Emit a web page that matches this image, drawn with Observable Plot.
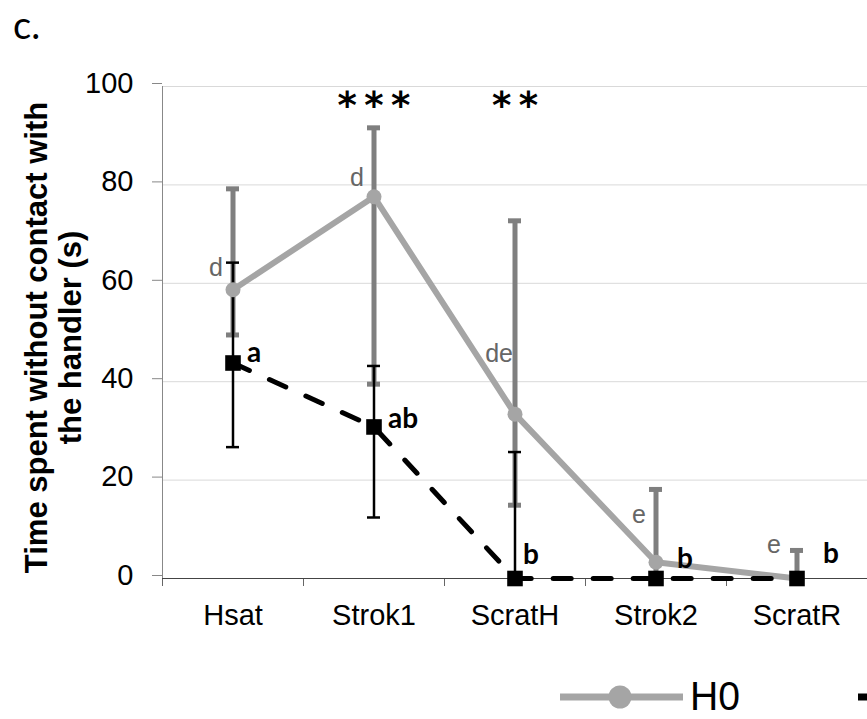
<!DOCTYPE html>
<html><head><meta charset="utf-8">
<script src="https://cdn.jsdelivr.net/npm/d3@7"></script>
<script src="https://cdn.jsdelivr.net/npm/@observablehq/plot@0.6"></script>
<style>
html,body{margin:0;padding:0;background:#fff;width:867px;height:719px;overflow:hidden;position:relative;}
#chart{position:absolute;left:0;top:0;}
#title{position:absolute;left:13px;top:2px;font-size:38px;font-family:Lato,"Open Sans",sans-serif;line-height:44px;color:#000;}
#legend{position:absolute;left:0;top:650px;}
</style></head><body>
<div id="chart"></div>
<div id="title">c.</div>
<svg id="legend" width="867" height="69" xmlns="http://www.w3.org/2000/svg">
  <line x1="560" y1="47" x2="683" y2="47" stroke="#a5a5a5" stroke-width="7"/>
  <circle cx="620" cy="47" r="11.5" fill="#a5a5a5"/>
  <text x="690" y="60" font-family="Liberation Sans, Arial, sans-serif" font-size="40" textLength="50" lengthAdjust="spacingAndGlyphs" fill="#000">H0</text>
  <line x1="858" y1="47" x2="940" y2="47" stroke="#000" stroke-width="7" stroke-dasharray="22,16"/>
</svg>
<script>
// ---- data ----
const categories = ["Hsat", "Strok1", "ScratH", "Strok2", "ScratR"];
const h0Mean  = [58.7, 77.6, 33.4, 3.3, 0];
const h0Upper = [79.2, 91.6, 72.7, 18.1, 5.7];
const h0Lower = [49.5, 39.5, 14.9, 0, 0];
const blkMean  = [43.8, 30.8, 0, 0, 0];
const blkUpper = [64.2, 43.2, 25.7, 0, 0];
const blkLower = [26.7, 12.4, 0, 0, 0];
const h0Letters = ["d", "d", "de", "e", "e"];
const h0LetterY = [61.5, 79.8, 44.0, 11.2, 5.1];
const blkLetters = ["a", "ab", "b", "b", "b"];
const blkLetterY = [44.0, 30.5, 2.9, 2.2, 3.1];
const stars = ["", "***", "**", "", ""];
const yTicks = [0, 20, 40, 60, 80, 100];
const yLabel = "Time spent without contact with\nthe handler (s)";

// ---- build table ----
const rows = categories.map((c, i) => ({
  x: i + 0.5, cat: c,
  h0: h0Mean[i], h0Lo: h0Lower[i], h0Hi: h0Upper[i],
  b: blkMean[i], bLo: blkLower[i], bHi: blkUpper[i],
  h0L: h0Letters[i], h0LY: h0LetterY[i],
  bL: blkLetters[i], bLY: blkLetterY[i],
  star: stars[i].split("").join("\u2009")
}));
const W = 867, ML = 162, MR = 0;
const pxPerUnit = (W - ML - MR) / categories.length;
const capHalf = 6.5 / pxPerUnit;
const caps = (lo, hi, m) => rows.flatMap(r => [r[lo], r[hi]].filter(v => v !== r[m]).map(v => ({x: r.x, y: v})));
const grayCaps = caps("h0Lo", "h0Hi", "h0");
const blkCaps = caps("bLo", "bHi", "b");
const font = "Liberation Sans, Arial, sans-serif";
// label nudges (pixels) to follow the hand-placed letters of the original
const blkNudge = [14, 14, 8, 21, 26];
const grayNudge = [-10, -10, -2, -10, -16];

const chart = Plot.plot({
  width: W, height: 650,
  marginLeft: ML, marginRight: MR, marginTop: 86, marginBottom: 72,
  style: {fontFamily: font, fontSize: "29px", background: "#fff", overflow: "visible"},
  x: {domain: [0, categories.length], label: null},
  y: {domain: [0, 100], label: null},
  marks: [
    Plot.ruleY(yTicks.filter(t => t > 0), {stroke: "#d9d9d9", strokeWidth: 1}),
    Plot.ruleX([0], {y1: 0, y2: 100, stroke: "#888"}),
    Plot.axisY({ticks: yTicks, tickSize: 10, tickPadding: 19, stroke: "#888", fill: "#000", fontSize: 29, label: null, dy: -3}),
    Plot.axisX({ticks: rows.map(r => r.x), tickFormat: d => categories[Math.floor(d)], tickSize: 0, tickPadding: 26, fill: "#000", fontSize: 29, label: null}),
    Plot.axisX({ticks: d3.range(categories.length + 1), tickFormat: () => "", tickSize: 8, stroke: "#666", label: null}),
    Plot.ruleY([0], {stroke: "#444", strokeWidth: 1}),
    // H0 error bars
    Plot.ruleX(rows, {x: "x", y1: "h0Lo", y2: "h0Hi", stroke: "#7f7f7f", strokeWidth: 5}),
    Plot.ruleY(grayCaps, {y: "y", x1: d => d.x - capHalf, x2: d => d.x + capHalf, stroke: "#7f7f7f", strokeWidth: 5}),
    // black series error bars
    Plot.ruleX(rows.filter(r => r.bHi > r.bLo), {x: "x", y1: "bLo", y2: "bHi", stroke: "#000", strokeWidth: 2.5}),
    Plot.ruleY(blkCaps, {y: "y", x1: d => d.x - capHalf, x2: d => d.x + capHalf, stroke: "#000", strokeWidth: 2.5}),
    // gray letters
    ...rows.map((r, i) => Plot.text([r], {x: "x", y: "h0LY", text: "h0L", textAnchor: "end", lineAnchor: "bottom", dx: grayNudge[i], fill: "#666", fontSize: 25, fontFamily: font})),
    // H0 line + dots
    Plot.line(rows, {x: "x", y: "h0", stroke: "#a5a5a5", strokeWidth: 6}),
    Plot.dot(rows, {x: "x", y: "h0", r: 7.5, fill: "#a5a5a5"}),
    // black dashed line + squares
    Plot.line(rows, {x: "x", y: "b", stroke: "#000", strokeWidth: 5, strokeDasharray: "18,22", strokeLinecap: "round"}),
    Plot.dot(rows, {x: "x", y: "b", symbol: "square", r: 8.8, fill: "#000"}),
    // black letters
    ...rows.map((r, i) => Plot.text([r], {x: "x", y: "bLY", text: "bL", textAnchor: "start", lineAnchor: "bottom", dx: blkNudge[i], fill: "#000", fontSize: 28, fontWeight: "bold", fontFamily: "Lato, 'Open Sans', sans-serif"})),
    // significance stars
    Plot.text(rows, {x: "x", y: 100, text: "star", lineAnchor: "top", dy: 5, fill: "#000", fontSize: 37, fontWeight: "bold", fontFamily: "DejaVu Sans, sans-serif"}),
    // y axis title
    Plot.text([yLabel], {text: d => d, frameAnchor: "left", dx: -109, dy: 5, rotate: -90, textAnchor: "middle", lineAnchor: "middle", lineHeight: 1.1, fontSize: 31, fontWeight: "bold", fill: "#000", fontFamily: font})
  ]
});
document.getElementById("chart").appendChild(chart);
</script>
</body></html>
